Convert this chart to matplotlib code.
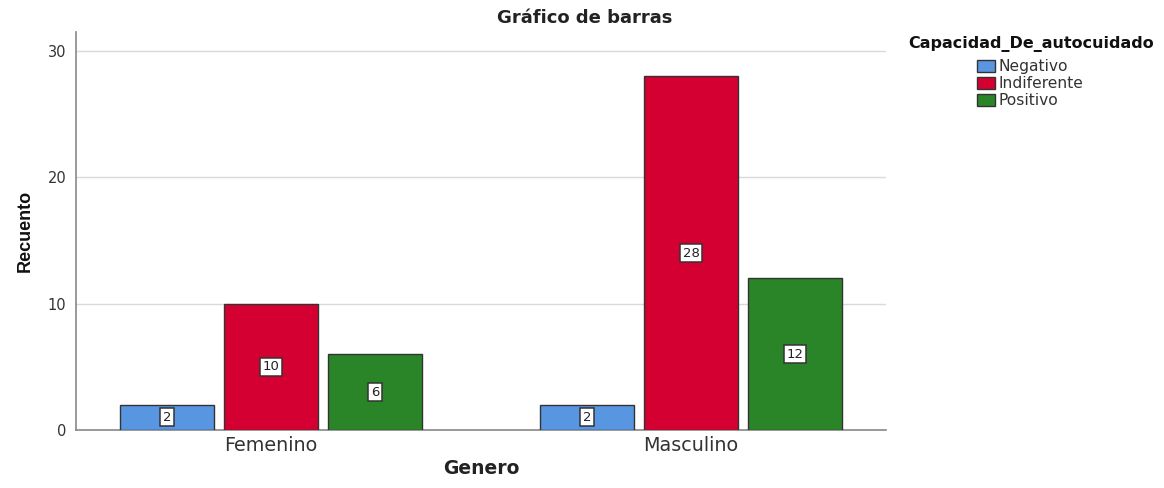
import matplotlib
matplotlib.use("Agg")
import matplotlib.pyplot as plt
import numpy as np
from matplotlib.patches import Patch

plt.rcParams['font.family'] = ['DejaVu Sans']

categories = ["Femenino", "Masculino"]
series_names = ["Negativo", "Indiferente", "Positivo"]
negativo = [2, 2]
indiferente = [10, 28]
positivo = [6, 12]
values = [negativo, indiferente, positivo]
colors = ["#5896e2", "#d50032", "#2a8529"]
yticks = [0, 10, 20, 30]

fig = plt.figure(figsize=(11.64, 4.88), dpi=100)
ax = fig.add_axes([76/1164, 58/488, 810/1164, 398/488])

x = np.arange(len(categories))
width = 0.224
offset = 0.2476
for i, (name, vals, c) in enumerate(zip(series_names, values, colors)):
    bars = ax.bar(x + (i - 1) * offset, vals, width, color=c, edgecolor="#333333",
                  linewidth=1.0, zorder=3, label=name)
    for b, v in zip(bars, vals):
        ax.text(b.get_x() + b.get_width()/2, v/2, str(v), ha="center", va="center",
                fontsize=9.5, color="#222222", zorder=4,
                bbox=dict(boxstyle="square,pad=0.18", fc="white", ec="#333333", lw=1.1))

ax.set_xlim(-0.464, 1.464)
ax.set_ylim(0, 31.5)
ax.set_yticks(yticks)
ax.set_xticks(x)
ax.set_xticklabels(categories, fontsize=13.8, color="#333333")
ax.tick_params(axis="y", labelsize=10.5, colors="#333333", length=0, pad=7)
ax.tick_params(axis="x", length=0, pad=4)
ax.grid(axis="y", color="#d9d9d9", linewidth=1, zorder=0)
for s in ["top", "right"]:
    ax.spines[s].set_visible(False)
ax.spines["left"].set_color("#888888")
ax.spines["bottom"].set_color("#888888")
ax.spines["left"].set_linewidth(1.2)
ax.spines["bottom"].set_linewidth(1.2)

fig.text(585/1164, 1 - 18/488, "Gráfico de barras", ha="center", va="center",
         fontsize=13, fontweight="bold", color="#222222")
ax.set_ylabel("Recuento", fontsize=13, fontweight="bold", labelpad=10, color="#111111",
              family=["Liberation Sans", "DejaVu Sans"])
ax.set_xlabel("Genero", fontsize=13.5, fontweight="bold", labelpad=3, color="#222222")

fig.text(1031/1164, 1 - 44/488, "Capacidad_De_autocuidado", ha="center", va="center",
         fontsize=11.5, fontweight="bold", color="#111111")
handles = [Patch(facecolor=c, edgecolor="#333333", label=n) for n, c in zip(series_names, colors)]
fig.legend(handles=handles, loc="upper left", bbox_to_anchor=(977/1164, 1 - 59/488),
           frameon=False, fontsize=11.2, handlelength=1.15, handleheight=0.8,
           handletextpad=0.25, labelspacing=0.13, borderpad=0, borderaxespad=0,
           labelcolor="#333333")

fig.savefig("out.png", dpi=100)
